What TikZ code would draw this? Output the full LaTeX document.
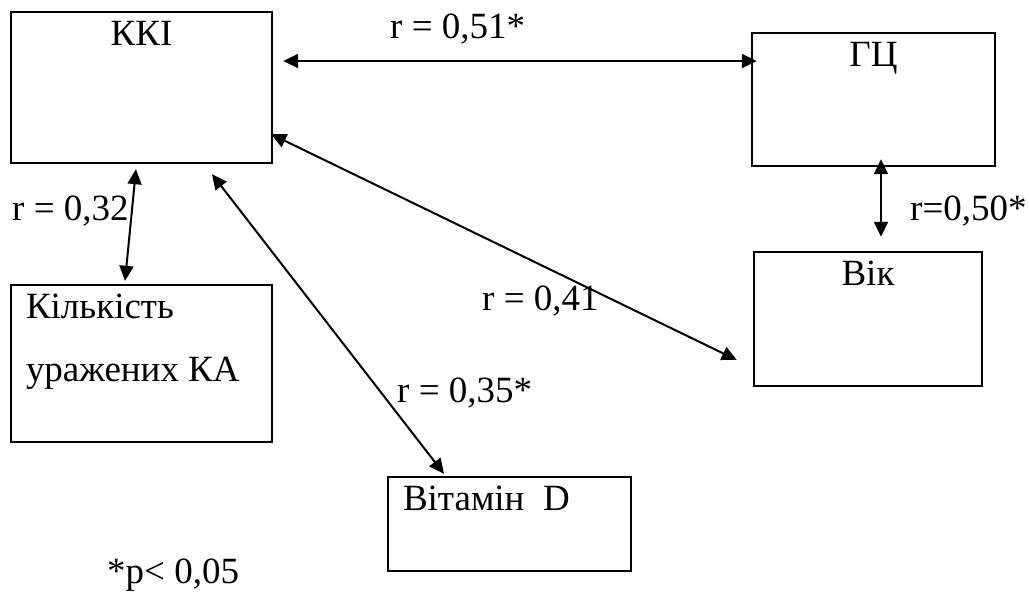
\documentclass[tikz,border=0pt]{standalone}
\usepackage{fontspec}
\setmainfont{Liberation Serif}
\usetikzlibrary{positioning, arrows.meta}

\begin{document}
\begin{tikzpicture}[
    x=1pt, y=-1pt,
    every node/.style={font=\fontsize{37}{44}\selectfont},
    box/.style={draw, line width=2.4pt, inner sep=0pt},
    title/.style={anchor=base, inner sep=0pt},
    lbl/.style={anchor=base west, inner sep=0pt},
    arrow/.style={{Triangle[length=15pt,width=14pt]}-{Triangle[length=15pt,width=14pt]}, line width=2pt}
]
\useasboundingbox (0,0) rectangle (1029,592);

\node[box, minimum width=261pt, minimum height=151pt] (kki) at (141.5,87.5) {};
\node[box, minimum width=243pt, minimum height=133pt] (gc) at (873.5,99.5) {};
\node[box, minimum width=228pt, minimum height=134pt] (vik) at (868,319) {};
\node[box, minimum width=261pt, minimum height=157pt] (kil) at (141.5,363.5) {};
\node[box, minimum width=243pt, minimum height=94pt] (vit) at (509.5,524) {};

\node[title] (kkit) at ([yshift=-35pt]kki.north) {ККІ};
\node[title] (gct) at ([yshift=-35pt]gc.north) {ГЦ};
\node[title] (vikt) at ([yshift=-35pt]vik.north) {Вік};
\node[lbl] (kilt1) at ([shift={(16pt,-35pt)}]kil.north west) {Кількість};
\node[lbl] (kilt2) at ([shift={(16pt,-98pt)}]kil.north west) {уражених КА};
\node[lbl] (vitt) at ([shift={(16pt,-35pt)}]vit.north west) {Вітамін~~D};

\draw[arrow] ([shift={(10pt,26.5pt)}]kki.east) -- ([shift={(6pt,38.5pt)}]gc.west);
\draw[arrow] ([shift={(7.5pt,8pt)}]gc.south) -- ([shift={(13pt,14pt)}]vik.north);
\draw[arrow] ([shift={(-2pt,30pt)}]kki.south east) -- ([shift={(-16pt,-41pt)}]vik.west);
\draw[arrow] ([shift={(-5.5pt,-5pt)}]kki.south) -- ([shift={(-16.5pt,3pt)}]kil.north);
\draw[arrow] ([shift={(70.5pt,-10pt)}]kki.south) -- ([shift={(-65.5pt,2pt)}]vit.north);

\node[lbl] (r51) at (390,38) {r = 0,51*};
\node[lbl] (r32) at (12,220) {r = 0,32};
\node[lbl] (r50) at (910,220) {r=0,50*};
\node[lbl] (r41) at (482,310) {r = 0,41};
\node[lbl] (r35) at (397,402) {r = 0,35*};
\node[lbl] (note) at (107,583) {*p< 0,05};

\end{tikzpicture}
\end{document}
